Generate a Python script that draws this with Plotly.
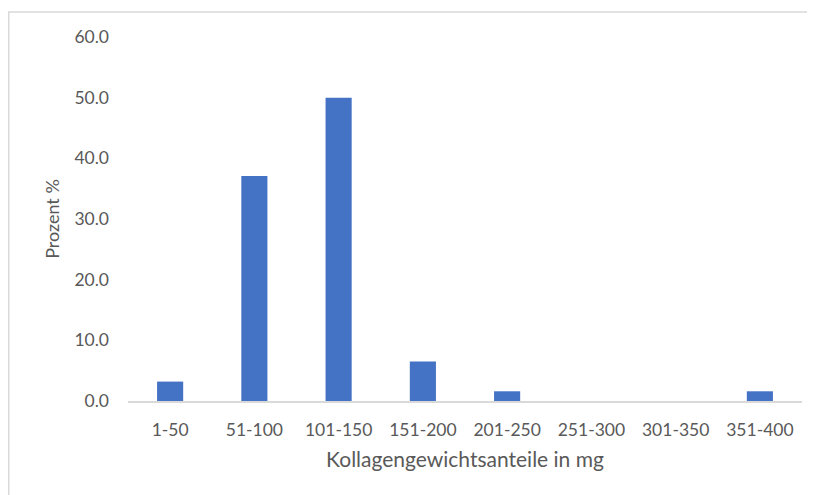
import plotly.graph_objects as go

categories = ["1-50", "51-100", "101-150", "151-200", "201-250", "251-300", "301-350", "351-400"]
values = [3.2, 37.1, 50.0, 6.5, 1.6, 0.0, 0.0, 1.6]
y_ticks = [0, 10, 20, 30, 40, 50, 60]
y_tick_labels = ["0.0", "10.0", "20.0", "30.0", "40.0", "50.0", "60.0"]

# page body adds an 8px offset; size the figure so it fits the window
W, H = 807, 487
L, R, T, B = 120, 13, 29, 94
pw, ph = W - L - R, H - T - B

fig = go.Figure(go.Bar(
    x=categories, y=values,
    marker=dict(color="#4472C4", line=dict(color="#4472C4", width=0)),
    width=0.31,
))

# chart-area frame: only its top and left edges fall inside the window
bx0 = (0.75 - L) / pw
bx1 = (W + 20 - L) / pw
by0 = -(B + 20) / ph
by1 = 1 + (T - 4) / ph
frame_path = f"M {bx0} {by0} L {bx0} {by1} L {bx1} {by1}"

font_fam = "Lato, 'Liberation Sans', sans-serif"
fig.update_layout(
    width=W, height=H,
    margin=dict(l=L, r=R, t=T, b=B),
    paper_bgcolor="white", plot_bgcolor="white",
    font=dict(family=font_fam, size=17, color="#595959"),
    showlegend=False,
    bargap=0.69,
    xaxis=dict(
        showgrid=False, showline=True, linecolor="#D9D9D9", linewidth=1.5,
        ticks="", ticklabelstandoff=12, tickfont=dict(size=17.5, color="#595959"),
        title=dict(text="Kollagengewichtsanteile in mg", standoff=14,
                   font=dict(size=21, color="#595959")),
    ),
    yaxis=dict(
        range=[0, 60], tickvals=y_ticks, ticktext=y_tick_labels,
        showgrid=False, zeroline=False, showline=False, ticks="",
        ticklabelstandoff=18, tickfont=dict(size=17.5, color="#595959"),
        title=dict(text="Prozent %", standoff=10, font=dict(size=18, color="#595959")),
    ),
    shapes=[dict(
        type="path", xref="paper", yref="paper", path=frame_path,
        line=dict(color="#D9D9D9", width=1.5), layer="below",
    )],
)

fig.write_html("out.html")
